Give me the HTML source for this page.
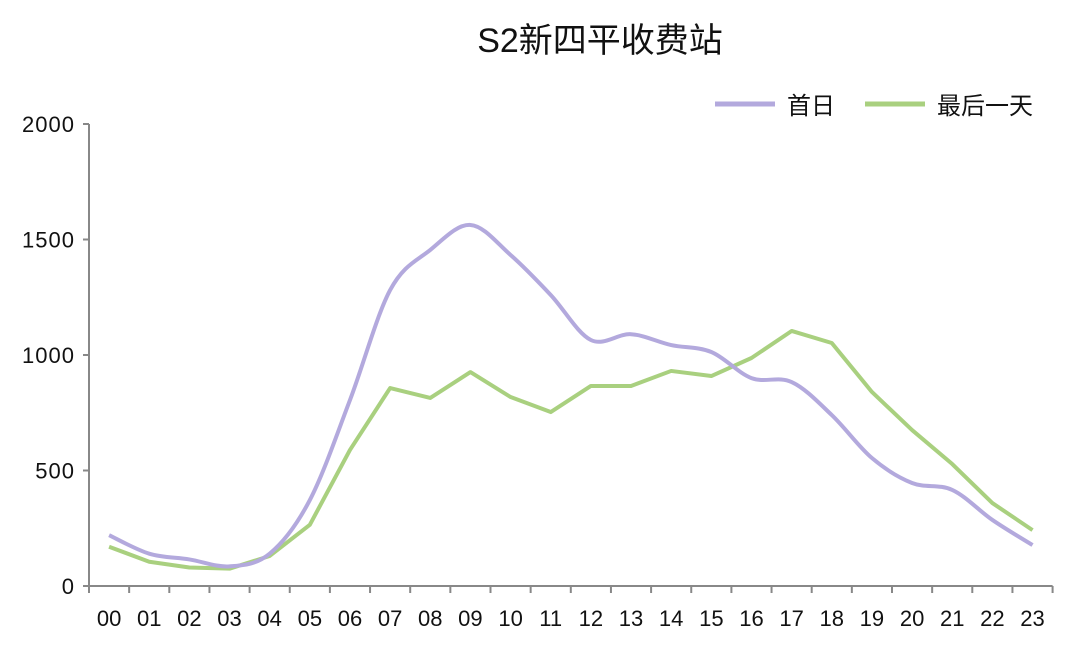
<!DOCTYPE html>
<html><head><meta charset="utf-8"><style>
body{margin:0;background:#fff;}
svg text{font-family:"Liberation Sans","Noto Sans CJK SC",sans-serif;fill:#111;}
</style></head><body>
<svg width="1080" height="667">
<text x="600" y="52" font-size="34" text-anchor="middle">S2新四平收费站</text>
<g>
<line x1="715" y1="104" x2="775" y2="104" stroke="#b3a9dd" stroke-width="5"/>
<text x="787" y="114" font-size="24">首日</text>
<line x1="865" y1="104" x2="925" y2="104" stroke="#a9d07f" stroke-width="5"/>
<text x="937" y="114" font-size="24">最后一天</text>
</g>
<g id="axes"></g>
<g id="series"></g>
</svg>
<script>
const categories=["00","01","02","03","04","05","06","07","08","09","10","11","12","13","14","15","16","17","18","19","20","21","22","23"];
const firstDay=[220,140,115,85,140,372,805,1281,1455,1563,1433,1260,1065,1090,1043,1013,900,883,740,554,446,416,286,177];
const lastDay=[170,105,80,75,130,265,589,857,814,926,818,753,866,866,931,909,987,1104,1052,840,675,528,359,242];
const yTicks=[0,500,1000,1500,2000];
const NS="http://www.w3.org/2000/svg";
const x0=89,bw=40.15,y0=586,yTop=124,yMax=2000;
const X=i=>x0+bw*(i+0.5);
const Y=v=>y0-(y0-yTop)*v/yMax;
const axes=document.getElementById('axes'),series=document.getElementById('series');
function mk(tag,attrs,parent){const e=document.createElementNS(NS,tag);for(const k in attrs)e.setAttribute(k,attrs[k]);parent.appendChild(e);return e;}
let e=mk('line',{x1:x0,y1:yTop,x2:x0,y2:y0,stroke:'#888','stroke-width':2},axes);


e=mk('line',{x1:x0,y1:y0,x2:x0+bw*24,y2:y0,stroke:'#888','stroke-width':2},axes);


yTicks.forEach(t=>{
 const l=mk('line',{x1:x0-6,y1:Y(t),x2:x0,y2:Y(t),stroke:'#888','stroke-width':2},axes);
 
 
 const tx=mk('text',{x:75,y:Y(t)+8,'font-size':22,'text-anchor':'end','letter-spacing':1},axes);
 tx.textContent=t;
 
 
});
for(let i=0;i<=24;i++){
 const l=mk('line',{x1:x0+bw*i,y1:y0,x2:x0+bw*i,y2:y0+7,stroke:'#888','stroke-width':2},axes);
 
 
}
categories.forEach((c,i)=>{
 const tx=mk('text',{x:X(i),y:626,'font-size':22,'text-anchor':'middle'},axes);
 tx.textContent=c;
 
 
});
function smooth(vals){
 const p=vals.map((v,i)=>[X(i),Y(v)]);
 let d='M'+p[0][0]+','+p[0][1];
 for(let i=0;i<p.length-1;i++){
  const a=p[i-1]||p[i],b=p[i],c=p[i+1],n=p[i+2]||c;
  const c1=[b[0]+(c[0]-a[0])/6,b[1]+(c[1]-a[1])/6],c2=[c[0]-(n[0]-b[0])/6,c[1]-(n[1]-b[1])/6];
  d+=` C${c1[0]},${c1[1]} ${c2[0]},${c2[1]} ${c[0]},${c[1]}`;
 }
 return d;
}
const lp=mk('polyline',{points:lastDay.map((v,i)=>X(i)+','+Y(v)).join(' '),fill:'none',stroke:'#a9d07f','stroke-width':4,'stroke-linejoin':'round'},series);


const fp=mk('path',{d:smooth(firstDay),fill:'none',stroke:'#b3a9dd','stroke-width':4},series);


</script>
</body></html>
